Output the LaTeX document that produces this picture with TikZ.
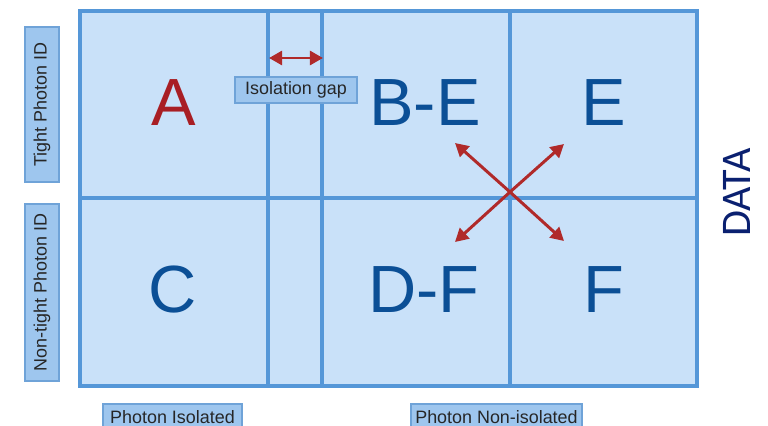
\documentclass[tikz,border=0pt]{standalone}
\usepackage{fontspec}
\setmainfont{Liberation Sans}
\newfontfamily\datafont{Carlito}
\usetikzlibrary{arrows.meta}

\begin{document}
\begin{tikzpicture}[x=0.02cm, y=-0.02cm,
  etich/.style={draw=labBorder, fill=labFill, line width=0.8pt, inner sep=0pt,
    text=black!85, font=\fontsize{10.2}{12}\selectfont},
  lettera/.style={font=\fontsize{38}{40}\selectfont, text=letBlue},
  freccia/.style={draw=arrRed, line width=1.7pt, -{Triangle[length=7.5pt,width=8pt]}}]

% Colori
\definecolor{cellFill}{HTML}{C9E1F9}
\definecolor{gridLine}{HTML}{5597D8}
\definecolor{labFill}{HTML}{9EC6EE}
\definecolor{labBorder}{HTML}{6FA3D8}
\definecolor{letBlue}{HTML}{0B4F96}
\definecolor{letRed}{HTML}{A81E24}
\definecolor{arrRed}{HTML}{B02A2A}
\definecolor{dataBlue}{HTML}{0A2070}

\useasboundingbox (0,0) rectangle (768,426);

% Griglia delle regioni
\fill[cellFill] (80,11) rectangle (697,386);
\draw[gridLine, line width=2.3pt] (268,11) -- (268,386);
\draw[gridLine, line width=2.3pt] (322,11) -- (322,386);
\draw[gridLine, line width=2.3pt] (510,11) -- (510,386);
\draw[gridLine, line width=2.3pt] (80,198) -- (697,198);
\draw[gridLine, line width=2.6pt] (80,11) rectangle (697,386);

% Lettere delle regioni
\node[lettera, text=letRed] (regA) at (174,103) {A};
\node[lettera] (regBE) at (425,103) {B-E};
\node[lettera] (regE) at (604,103) {E};
\node[lettera] (regC) at (173,290) {C};
\node[lettera] (regDF) at (424,290) {D-F};
\node[lettera] (regF) at (604,290) {F};

% Isolation gap
\coordinate (gapL) at (269,58);
\coordinate (gapR) at (323,58);
\draw[freccia, {Triangle[length=7.5pt,width=8pt]}-{Triangle[length=7.5pt,width=8pt]}] (gapL) -- (gapR);
\node[etich, minimum width=2.44cm, minimum height=0.52cm] (gap) at (296,90) {Isolation gap};

% Frecce a croce
\coordinate (X) at (510,192);
\coordinate (nw) at (455,143);
\coordinate (ne) at (564,144);
\coordinate (sw) at (455,242);
\coordinate (se) at (564,241);
\draw[freccia] (X) -- (nw);
\draw[freccia] (X) -- (ne);
\draw[freccia] (X) -- (sw);
\draw[freccia] (X) -- (se);

% Etichette degli assi
\node[etich, rotate=90, minimum width=3.1cm, minimum height=0.68cm] (tight) at (42,104.5) {Tight Photon ID};
\node[etich, rotate=90, minimum width=3.54cm, minimum height=0.68cm] (nontight) at (42,292.5) {Non-tight Photon ID};
\node[etich, minimum width=2.78cm, minimum height=0.52cm] (iso) at (172.5,417) {Photon Isolated};
\node[etich, minimum width=3.42cm, minimum height=0.52cm] (noniso) at (496.5,417) {Photon Non-isolated};

% Etichetta DATA
\node[rotate=90, text=dataBlue, font=\datafont\fontsize{24}{26}\selectfont] (data) at (737,192.5) {DATA};
\end{tikzpicture}
\end{document}
